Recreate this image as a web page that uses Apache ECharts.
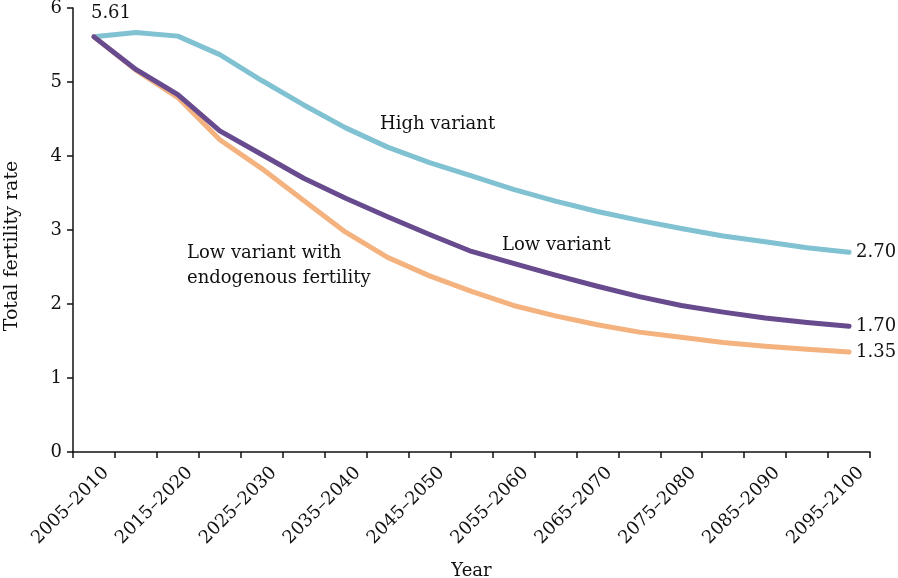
<!DOCTYPE html>
<html>
<head>
<meta charset="utf-8">
<script src="https://cdn.jsdelivr.net/npm/echarts@6/dist/echarts.min.js"></script>
<style>html,body{margin:0;padding:0;background:#fff;}#c{width:898px;height:578px;}</style>
</head>
<body>
<div id="c"></div>
<script>
var categories = ['2005–2010','2010–2015','2015–2020','2020–2025','2025–2030','2030–2035','2035–2040','2040–2045','2045–2050','2050–2055','2055–2060','2060–2065','2065–2070','2070–2075','2075–2080','2080–2085','2085–2090','2090–2095','2095–2100'];
var highVariant = [5.61,5.67,5.62,5.37,5.02,4.69,4.38,4.12,3.91,3.73,3.55,3.39,3.25,3.13,3.02,2.92,2.84,2.76,2.70];
var lowVariant = [5.61,5.17,4.83,4.34,4.02,3.70,3.43,3.18,2.94,2.71,2.55,2.39,2.24,2.10,1.98,1.89,1.81,1.75,1.70];
var lowEndogenous = [5.61,5.16,4.79,4.22,3.83,3.40,2.97,2.63,2.38,2.17,1.98,1.84,1.72,1.62,1.55,1.48,1.43,1.39,1.35];
var yTicks = [0,1,2,3,4,5,6];

var FONT = 'DejaVu Serif';
var chart = echarts.init(document.getElementById('c'));
function endLbl(){
  return {show:true, formatter:function(p){return Number(p.value).toFixed(2);}, distance:7, fontFamily:FONT, fontSize:18, color:'#111'};
}
chart.setOption({
  animation:false,
  grid:{left:73,right:28,top:8,bottom:126,containLabel:false,outerBoundsMode:'none'},
  xAxis:{
    type:'category', data:categories, boundaryGap:true,
    name:'Year', nameLocation:'middle', nameGap:110,
    nameTextStyle:{fontFamily:FONT,fontSize:18,color:'#111'},
    axisLine:{lineStyle:{color:'#111',width:1.5}},
    axisTick:{show:true,length:6,interval:0,alignWithLabel:false,lineStyle:{color:'#111',width:1.5}},
    axisLabel:{interval:1,rotate:45,margin:6,align:'right',verticalAlign:'top',lineHeight:34,fontFamily:FONT,fontSize:18,color:'#111'},
    splitLine:{show:false}
  },
  yAxis:{
    type:'value', min:yTicks[0], max:yTicks[yTicks.length-1], interval:1,
    axisLine:{show:true,lineStyle:{color:'#111',width:1.5}},
    axisTick:{show:true,length:6,lineStyle:{color:'#111',width:1.5}},
    axisLabel:{margin:11,fontFamily:FONT,fontSize:18,color:'#111'},
    splitLine:{show:false}
  },
  graphic:[
    {type:'text',x:12,y:246,rotation:Math.PI/2,style:{text:'Total fertility rate',font:'19px "DejaVu Serif"',fill:'#111',textAlign:'center',textVerticalAlign:'middle'}},
    {type:'text',x:380,y:124,style:{text:'High variant',font:'18px "DejaVu Serif"',fill:'#111',textVerticalAlign:'middle'}},
    {type:'text',x:502,y:245,style:{text:'Low variant',font:'18px "DejaVu Serif"',fill:'#111',textVerticalAlign:'middle'}},
    {type:'text',x:187,y:253,style:{text:'Low variant with',font:'18px "DejaVu Serif"',fill:'#111',textVerticalAlign:'middle'}},
    {type:'text',x:187,y:278,style:{text:'endogenous fertility',font:'18px "DejaVu Serif"',fill:'#111',textVerticalAlign:'middle'}}
  ],
  series:[
    {name:'High variant',type:'line',data:highVariant,showSymbol:false,symbol:'none',z:2,
     lineStyle:{color:'#80c1d2',width:5,cap:'round',join:'round'},
     endLabel:endLbl(),
     markPoint:{symbol:'circle',symbolSize:0,data:[{coord:[0,highVariant[0]],value:highVariant[0]}],
       label:{show:true,position:'top',offset:[17,-10],formatter:function(p){return Number(p.value).toFixed(2);},fontFamily:FONT,fontSize:18,color:'#111'}}},
    {name:'Low variant with endogenous fertility',type:'line',data:lowEndogenous,showSymbol:false,symbol:'none',z:3,
     lineStyle:{color:'#f4b27f',width:5,cap:'round',join:'round'},
     endLabel:endLbl()},
    {name:'Low variant',type:'line',data:lowVariant,showSymbol:false,symbol:'none',z:4,
     lineStyle:{color:'#684b8f',width:5,cap:'round',join:'round'},
     endLabel:endLbl()}
  ]
});
</script>
</body>
</html>
